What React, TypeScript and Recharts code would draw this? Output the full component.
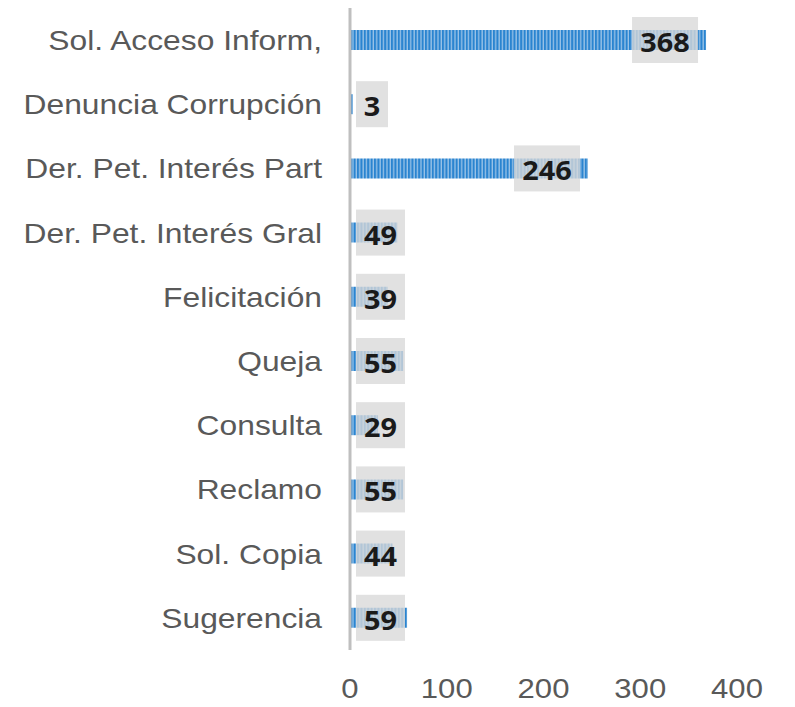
import { Bar, BarChart, LabelList, XAxis, YAxis } from "recharts";

// Solicitudes por tipo, horizontal bars with striped fill.
const categories = [
  "Sol. Acceso Inform,",
  "Denuncia Corrupción",
  "Der. Pet. Interés Part",
  "Der. Pet. Interés Gral",
  "Felicitación",
  "Queja",
  "Consulta",
  "Reclamo",
  "Sol. Copia",
  "Sugerencia",
];
const values = [368, 3, 246, 49, 39, 55, 29, 55, 44, 59];
const xTicks = [0, 100, 200, 300, 400];

const data = categories.map((name, i) => ({ name, value: values[i] }));

const TEXT = "#595959";
const AXIS = "#bfbfbf";
const STRETCH = 1.11;

function CategoryTick({ x, y, payload }: any) {
  return (
    <g transform={`translate(${x},${y}) scale(1.135,1)`}>
      <text
        x={0}
        y={0}
        dy="0.35em"
        textAnchor="end"
        fill={TEXT}
        fontSize={28}
        fontFamily="'Liberation Sans', Arial, sans-serif"
      >
        {payload.value}
      </text>
    </g>
  );
}

function ValueTick({ x, y, payload }: any) {
  return (
    <g transform={`translate(${x},${y}) scale(${STRETCH},1)`}>
      <text
        x={0}
        y={48}
        textAnchor="middle"
        fill={TEXT}
        fontSize={28}
        fontFamily="'Liberation Sans', Arial, sans-serif"
      >
        {payload.value}
      </text>
    </g>
  );
}

function ValueLabel(props: any) {
  const { x, y, width, height, value } = props;
  const digits = String(value).length;
  const w = digits * 17 + 15;
  const h = 46;
  const cy = y + height / 2;
  const right = Math.max(x + width - 8, x + 6 + w);
  const left = right - w;
  return (
    <g>
      <rect x={left} y={cy - h / 2} width={w} height={h} fill="#d9d9d9" fillOpacity={0.78} />
      <g transform={`translate(${left + w / 2},${cy + 12}) scale(${STRETCH},1)`}>
        <text
          x={0}
          y={0}
          textAnchor="middle"
          fill="#1a1a1a"
          fontSize={26}
          fontWeight="bold"
          fontFamily="'Open Sans', sans-serif"
        >
          {value}
        </text>
      </g>
    </g>
  );
}

export default function App() {
  return (
    <div style={{ position: "absolute", left: 0, top: 0 }}>
      <BarChart
        width={795}
        height={707}
        data={data}
        layout="vertical"
        margin={{ top: 8, right: 58, left: 0, bottom: 0 }}
      >
        <defs>
          <pattern id="stripes" patternUnits="userSpaceOnUse" width={3.4} height={10}>
            <rect x={0} y={0} width={3.4} height={10} fill="#9cc4e8" />
            <rect x={0} y={0} width={2.1} height={10} fill="#2a84d0" />
          </pattern>
        </defs>
        <XAxis
          type="number"
          domain={[0, 400]}
          ticks={xTicks}
          axisLine={false}
          tickLine={false}
          tickSize={0}
          tickMargin={0}
          height={57}
          tick={<ValueTick />}
          interval={0}
        />
        <YAxis
          type="category"
          dataKey="name"
          width={350}
          axisLine={{ stroke: AXIS, strokeWidth: 3 }}
          tickLine={false}
          tickSize={0}
          tickMargin={28}
          tick={<CategoryTick />}
          interval={0}
        />
        <Bar dataKey="value" barSize={20} fill="url(#stripes)" isAnimationActive={false}>
          <LabelList dataKey="value" content={<ValueLabel />} />
        </Bar>
      </BarChart>
    </div>
  );
}
